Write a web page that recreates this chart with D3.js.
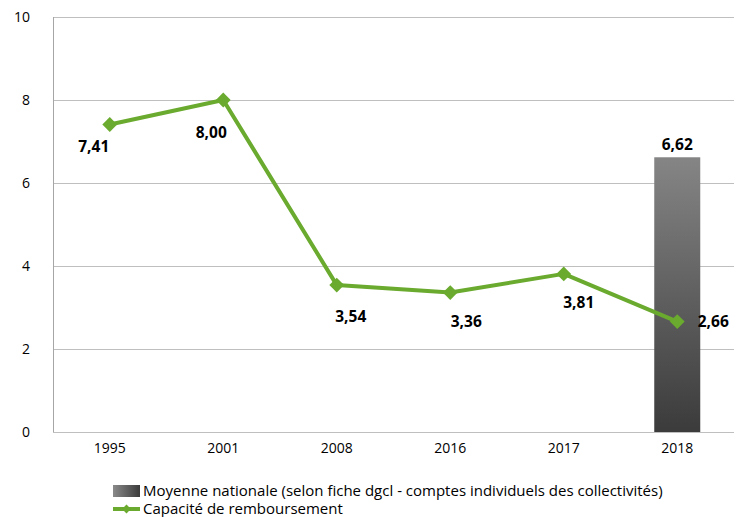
<!DOCTYPE html>
<html>
<head>
<meta charset="utf-8">
<script src="https://cdn.jsdelivr.net/npm/d3@7"></script>
<style>
  body { margin: 0; background: #fff; }
  text { font-family: "Open Sans", Lato, sans-serif; fill: #000; }
</style>
</head>
<body>
<svg width="740" height="517"></svg>
<script>
let years = ["1995", "2001", "2008", "2016", "2017", "2018"]
let moyenne = [null, null, null, null, null, 6.62]
let capacite = [7.41, 8.00, 3.54, 3.36, 3.81, 2.66]
let yTicks = [0, 2, 4, 6, 8, 10]
let seriesNames = ["Moyenne nationale (selon fiche dgcl - comptes individuels des collectivités)", "Capacité de remboursement"]

// label offsets (dx, dy) for the line values, as placed in the original
let labelShift = [[-16, 22], [-12, 33], [14, 31], [16, 29], [15, 29], [36, 0]]

let svg = d3.select("svg")
let margin = {top: 17, right: 6, bottom: 85, left: 53}
let width = svg.attr("width") - margin.left - margin.right
let height = svg.attr("height") - margin.top - margin.bottom

let x = d3.scaleBand().domain(years).range([0, width])
let y = d3.scaleLinear().domain([0, 10]).range([height, 0])

let defs = svg.append("defs")
let grad = defs.append("linearGradient").attr("id", "barGrad")
    .attr("x1", 0).attr("y1", 0).attr("x2", 0).attr("y2", 1)
grad.append("stop").attr("offset", "0%").attr("stop-color", "#858585")
grad.append("stop").attr("offset", "100%").attr("stop-color", "#3b3b3b")
let gradH = defs.append("linearGradient").attr("id", "legGrad")
gradH.append("stop").attr("offset", "0%").attr("stop-color", "#8a8a8a")
gradH.append("stop").attr("offset", "100%").attr("stop-color", "#3b3b3b")

let g = svg.append("g")
    .attr("transform", "translate(" + margin.left + "," + margin.top + ")")

// gridlines
g.selectAll(".grid")
  .data(yTicks)
  .enter().append("line")
    .attr("x1", 0).attr("x2", width)
    .attr("y1", d => y(d) + 0.5).attr("y2", d => y(d) + 0.5)
    .attr("stroke", "#bfbfbf")

// y axis line
g.append("line")
    .attr("x1", 0.5).attr("x2", 0.5)
    .attr("y1", 0).attr("y2", height)
    .attr("stroke", "#a6a6a6")

let yAxis = g.append("g")
    .call(d3.axisLeft(y).tickValues(yTicks).tickSize(0).tickPadding(23))
yAxis.select(".domain").remove()
yAxis.selectAll("text").style("font-size", "14px").style("font-family", "'Open Sans', sans-serif")

let xAxis = g.append("g")
    .attr("transform", "translate(0," + height + ")")
    .call(d3.axisBottom(x).tickSize(0).tickPadding(11))
xAxis.select(".domain").remove()
xAxis.selectAll("text").style("font-size", "14px").style("font-family", "'Open Sans', sans-serif")

// bars
let barW = 46
let barData = years.map((yr, i) => ({yr: yr, v: moyenne[i]})).filter(d => d.v != null)
g.selectAll(".bar")
  .data(barData)
  .enter().append("rect")
    .attr("class", "bar")
    .attr("x", d => x(d.yr) + x.bandwidth() / 2 - barW / 2)
    .attr("y", d => y(d.v))
    .attr("width", barW)
    .attr("height", d => height - y(d.v))
    .attr("fill", "url(#barGrad)")

g.selectAll(".barLabel")
  .data(barData)
  .enter().append("text")
    .attr("x", d => x(d.yr) + x.bandwidth() / 2)
    .attr("y", d => y(d.v) - 7)
    .attr("text-anchor", "middle")
    .style("font-size", "15.5px").style("font-weight", "bold")
    .text(d => d.v.toFixed(2).replace(".", ","))

// line
let pts = years.map((yr, i) => ({yr: yr, v: capacite[i], i: i}))
let line = d3.line().x(d => x(d.yr) + x.bandwidth() / 2).y(d => y(d.v))
g.append("path")
    .datum(pts)
    .attr("d", line)
    .attr("fill", "none")
    .attr("stroke", "#6aaa2e")
    .attr("stroke-width", 4)
    .attr("stroke-linejoin", "round")

let diamond = d3.symbol().type(d3.symbolDiamond2).size(140)
g.selectAll(".pt")
  .data(pts)
  .enter().append("path")
    .attr("d", diamond)
    .attr("transform", d => "translate(" + (x(d.yr) + x.bandwidth() / 2) + "," + y(d.v) + ")")
    .attr("fill", "#6aaa2e")

g.selectAll(".ptLabel")
  .data(pts)
  .enter().append("text")
    .attr("x", d => x(d.yr) + x.bandwidth() / 2 + labelShift[d.i][0])
    .attr("y", d => y(d.v) + labelShift[d.i][1])
    .attr("dy", "0.35em")
    .attr("text-anchor", "middle")
    .style("font-size", "15.5px").style("font-weight", "bold")
    .text(d => d.v.toFixed(2).replace(".", ","))

// legend
let leg = svg.append("g").attr("transform", "translate(113,485)")
leg.append("rect").attr("x", 0).attr("y", 0).attr("width", 27).attr("height", 12)
    .attr("fill", "url(#legGrad)")
leg.append("text").attr("x", 30).attr("y", 6).attr("dy", "0.35em")
    .style("font-size", "15px").text(seriesNames[0])
leg.append("line").attr("x1", 0).attr("x2", 27).attr("y1", 24).attr("y2", 24)
    .attr("stroke", "#6aaa2e").attr("stroke-width", 4)
leg.append("path").attr("d", d3.symbol().type(d3.symbolDiamond2).size(50))
    .attr("transform", "translate(13.5,24)").attr("fill", "#6aaa2e")
leg.append("text").attr("x", 30).attr("y", 24).attr("dy", "0.35em")
    .style("font-size", "15px").text(seriesNames[1])
</script>
</body>
</html>
